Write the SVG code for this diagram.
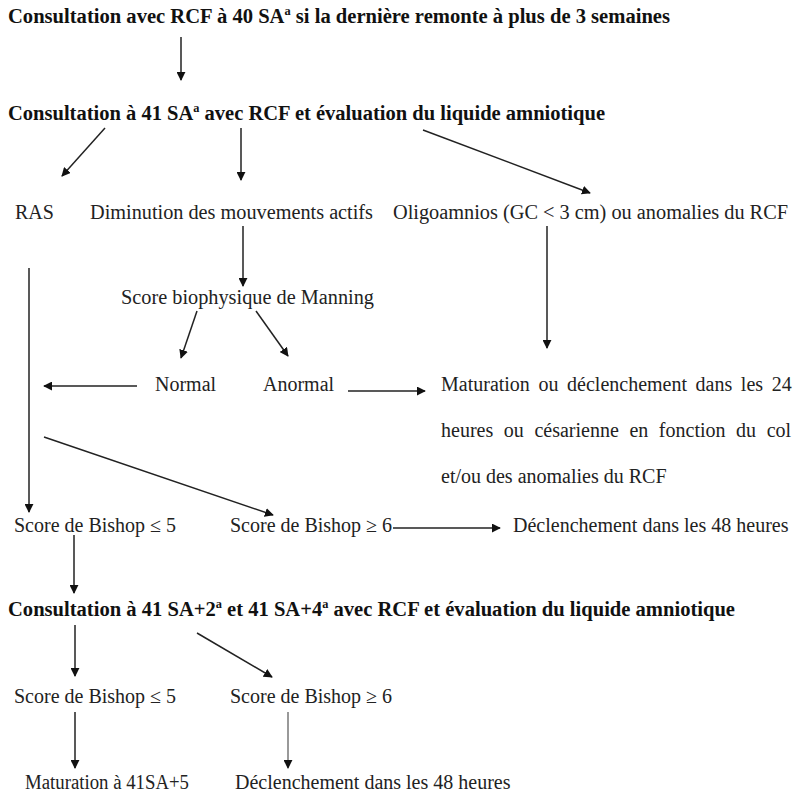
<svg xmlns="http://www.w3.org/2000/svg" width="793" height="794" viewBox="0 0 793 794">
<defs>
<style>
text{font-family:"Liberation Serif","Times New Roman",serif;font-size:20px;fill:#222}
.b{font-weight:bold;fill:#111}
.sup{font-size:12px}
.c line{stroke:#222;stroke-width:1.5;marker-end:url(#ah)}
.g{stroke:#777!important}
</style>
<marker id="ah" viewBox="0 0 10 10" refX="9" refY="5" markerWidth="6" markerHeight="6" orient="auto" markerUnits="strokeWidth">
<path d="M0,0 L10,5 L0,10 z" fill="#111"/>
</marker>
</defs>
<rect width="793" height="794" fill="#fff"/>
<g id="n1"><text class="b" x="8" y="23" textLength="662" lengthAdjust="spacingAndGlyphs">Consultation avec RCF à 40 SA<tspan class="sup" dy="-8">a</tspan><tspan dy="8"> si la dernière remonte à plus de 3 semaines</tspan></text></g>
<g id="n2"><text class="b" x="8" y="120" textLength="597" lengthAdjust="spacingAndGlyphs">Consultation à 41 SA<tspan class="sup" dy="-8">a</tspan><tspan dy="8"> avec RCF et évaluation du liquide amniotique</tspan></text></g>
<g id="n3"><text x="15" y="219">RAS</text></g>
<g id="n4"><text x="90" y="219" textLength="283" lengthAdjust="spacingAndGlyphs">Diminution des mouvements actifs</text></g>
<g id="n5"><text x="393" y="219" textLength="395" lengthAdjust="spacingAndGlyphs">Oligoamnios (GC &lt; 3 cm) ou anomalies du RCF</text></g>
<g id="n6"><text x="121" y="304" textLength="253" lengthAdjust="spacingAndGlyphs">Score biophysique de Manning</text></g>
<g id="n7"><text x="155" y="391">Normal</text></g>
<g id="n8"><text x="263" y="391">Anormal</text></g>
<g id="n9">
<text x="441" y="391" style="word-spacing:3.6px">Maturation ou déclenchement dans les 24</text>
<text x="441" y="437" style="word-spacing:5.6px">heures ou césarienne en fonction du col</text>
<text x="441" y="483">et/ou des anomalies du RCF</text>
</g>
<g id="n10"><text x="14" y="532">Score de Bishop ≤ 5</text></g>
<g id="n11"><text x="230" y="532">Score de Bishop ≥ 6</text></g>
<g id="n12"><text x="513" y="532">Déclenchement dans les 48 heures</text></g>
<g id="n13"><text class="b" x="8" y="616" textLength="727" lengthAdjust="spacingAndGlyphs">Consultation à 41 SA+2<tspan class="sup" dy="-8">a</tspan><tspan dy="8"> et 41 SA+4</tspan><tspan class="sup" dy="-8">a</tspan><tspan dy="8"> avec RCF et évaluation du liquide amniotique</tspan></text></g>
<g id="n14"><text x="14" y="703">Score de Bishop ≤ 5</text></g>
<g id="n15"><text x="230" y="703">Score de Bishop ≥ 6</text></g>
<g id="n16"><text x="25" y="789" textLength="164" lengthAdjust="spacingAndGlyphs">Maturation à 41SA+5</text></g>
<g id="n17"><text x="235" y="789">Déclenchement dans les 48 heures</text></g>
<g id="connectors" class="c">
<line x1="181" y1="37" x2="181" y2="80"/>
<line x1="105" y1="128" x2="62" y2="176"/>
<line x1="241" y1="128" x2="241" y2="180"/>
<line x1="423" y1="130" x2="590" y2="193"/>
<line x1="243" y1="226" x2="243" y2="286"/>
<line x1="197" y1="311" x2="181" y2="358"/>
<line x1="256" y1="311" x2="288" y2="356"/>
<line x1="137" y1="386" x2="44" y2="386"/>
<line x1="348" y1="391" x2="425" y2="391"/>
<line x1="547" y1="226" x2="547" y2="348"/>
<line x1="29" y1="268" x2="29" y2="512"/>
<line x1="44" y1="437" x2="273" y2="515"/>
<line x1="393" y1="528" x2="500" y2="528"/>
<line x1="74" y1="535" x2="74" y2="593"/>
<line x1="75" y1="625" x2="75" y2="676"/>
<line x1="197" y1="633" x2="272" y2="677"/>
<line x1="75" y1="712" x2="75" y2="768"/>
<line class="g" x1="288" y1="712" x2="288" y2="768"/>
</g>
</svg>
